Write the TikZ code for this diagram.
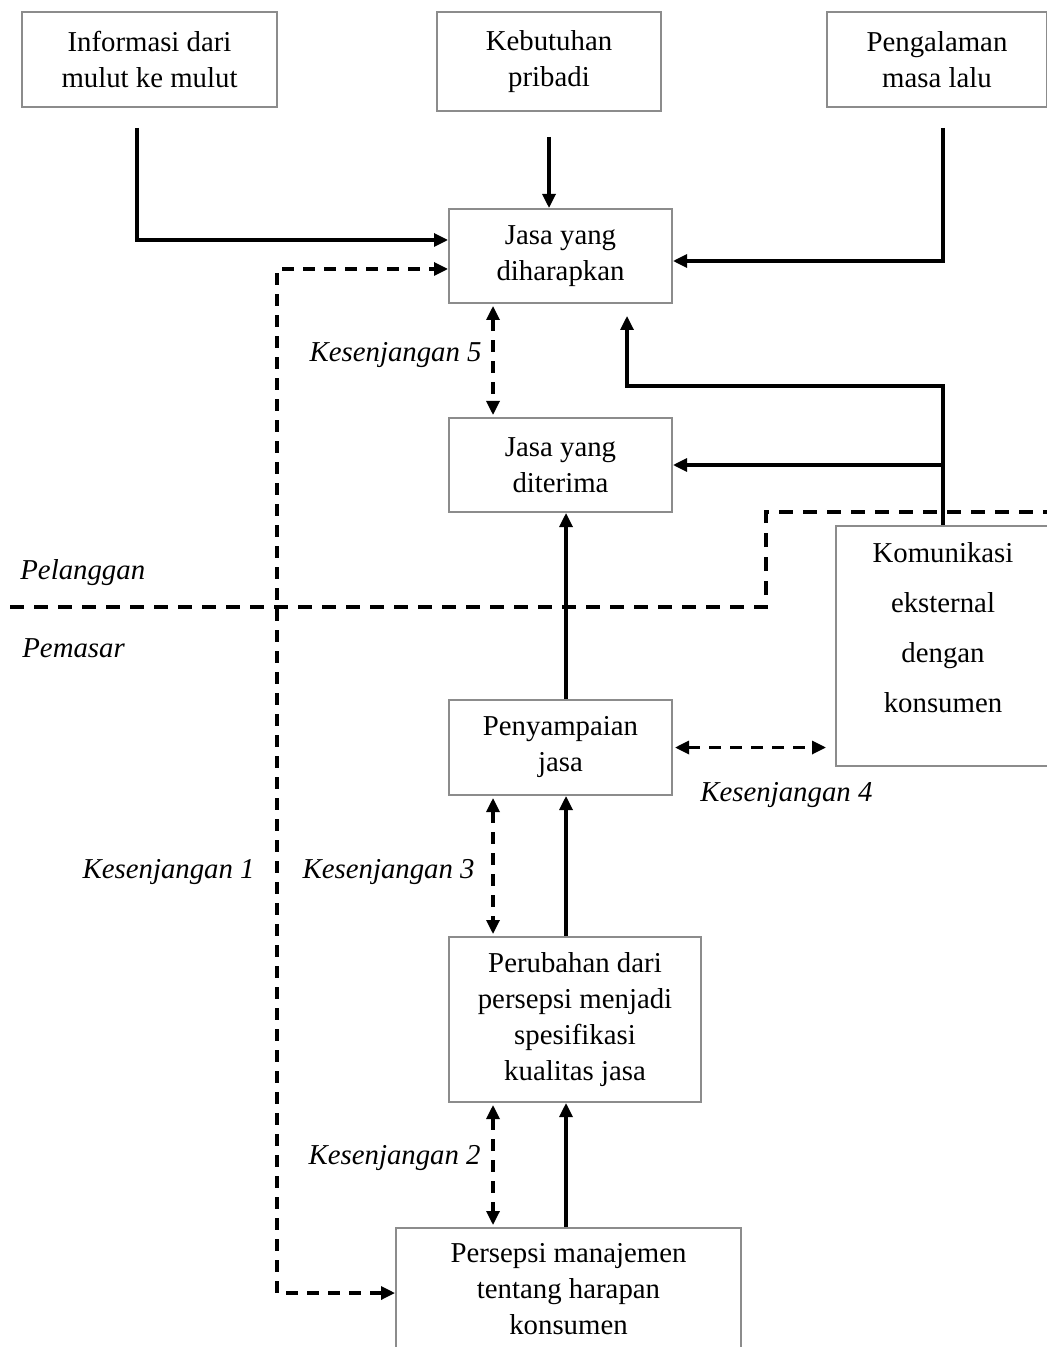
\documentclass[tikz,border=0pt]{standalone}
\usepackage{fontspec}
\setmainfont{Liberation Serif}
\usetikzlibrary{arrows.meta}
\definecolor{boxgray}{HTML}{8C8C8C}
\begin{document}
\begin{tikzpicture}[x=0.5pt,y=-0.5pt,
  box/.style={draw=boxgray,line width=1pt,align=center,inner sep=0pt,font=\fontsize{14.4}{18}\selectfont},
  txt/.style={align=center,inner sep=0pt,font=\fontsize{14.4}{25}\selectfont},
  tip/.tip={Triangle[length=7pt,width=6.5pt]},
  arr/.style={line width=1.6pt,-tip},
  darr/.style={line width=1.6pt,dash pattern=on 6pt off 4.5pt,tip-tip},
  bound/.style={line width=1.6pt,dash pattern=on 7pt off 5pt},
  lbl/.style={font=\fontsize{14.4}{18}\selectfont\itshape,inner sep=0pt}]
\useasboundingbox[fill=white] (0,0) rectangle (1047,1347);

% boxes
\node[box,minimum width=127.5pt,minimum height=47.5pt] (b1) at (149.5,59.5) {Informasi dari\\mulut ke mulut};
\node[box,minimum width=112pt,minimum height=49.5pt] (b2) at (549,61.5) {Kebutuhan\\pribadi};
\node[box,minimum width=110pt,minimum height=47.5pt] (b3) at (937,59.5) {Pengalaman\\masa lalu};
\node[box,minimum width=111.5pt,minimum height=47pt] (jd) at (560.5,256) {Jasa yang\\diharapkan};
\node[box,minimum width=111.5pt,minimum height=47pt] (jt) at (560.5,465) {Jasa yang\\diterima};
\node[box,minimum width=107pt,minimum height=120pt] (km) at (943,646) {};
\node[txt] (kmtext) at (943,628) {Komunikasi\\eksternal\\dengan\\konsumen};
\node[box,minimum width=111.5pt,minimum height=47.5pt] (py) at (560.5,747.5) {Penyampaian\\jasa};
\node[box,minimum width=126pt,minimum height=82.5pt] (pr) at (575,1019.5) {Perubahan dari\\persepsi menjadi\\spesifikasi\\kualitas jasa};
\node[box,minimum width=172.5pt,minimum height=61pt] (ps) at (568.5,1289) {Persepsi manajemen\\tentang harapan\\konsumen};

% helper coordinates
\coordinate (c1) at (137,128);
\coordinate (c2) at (549,137);
\coordinate (c3) at (943,128);
\coordinate (k1a) at (277,1293);
\coordinate (k1b) at (277,269);
\coordinate (g) at (493,0);
\coordinate (m) at (566,0);
\coordinate (r1) at (627,386);

% solid connectors
\draw[arr] (c1) |- ([yshift=8pt]jd.west);
\draw[arr] (c2) -- (c2 |- jd.north);
\draw[arr] (c3) |- ([yshift=-2.5pt]jd.east);
\draw[arr] (km.north) |- (r1) -- ([yshift=-6pt]r1 |- jd.south);
\draw[arr] (km.north |- jt.east) -- (jt.east);
\draw[arr] (m |- py.north) -- (m |- jt.south);
\draw[arr] (m |- pr.north) -- (m |- py.south);
\draw[arr] (m |- ps.north) -- (m |- pr.south);

% dashed gaps
\draw[darr] (k1a -| ps.west) -- (k1a) -- (k1b) -- ([yshift=-6.5pt]jd.west);
\draw[darr] ([yshift=-1pt]g |- jd.south) -- ([yshift=1pt]g |- jt.north);
\draw[darr] ([yshift=-1pt]g |- py.south) -- ([yshift=1pt]g |- pr.north);
\draw[darr] ([yshift=-1pt]g |- pr.south) -- ([yshift=1pt]g |- ps.north);
\draw[darr] ([xshift=1pt]py.east) -- ([xshift=-4.5pt]km.west |- py.east);

% boundary customer / marketer
\draw[bound] (10,607) -- (766,607) -- (766,512) -- (1047,512);

% labels
\node[lbl,anchor=east] (l5) at (482,355) {Kesenjangan 5};
\node[lbl,anchor=west] (lp) at (20,573) {Pelanggan};
\node[lbl,anchor=west] (lm) at (22,648) {Pemasar};
\node[lbl,anchor=west] (l4) at (700,795) {Kesenjangan 4};
\node[lbl,anchor=east] (l1) at (255,872) {Kesenjangan 1};
\node[lbl,anchor=east] (l3) at (475,872) {Kesenjangan 3};
\node[lbl,anchor=east] (l2) at (481,1158) {Kesenjangan 2};
\end{tikzpicture}
\end{document}
